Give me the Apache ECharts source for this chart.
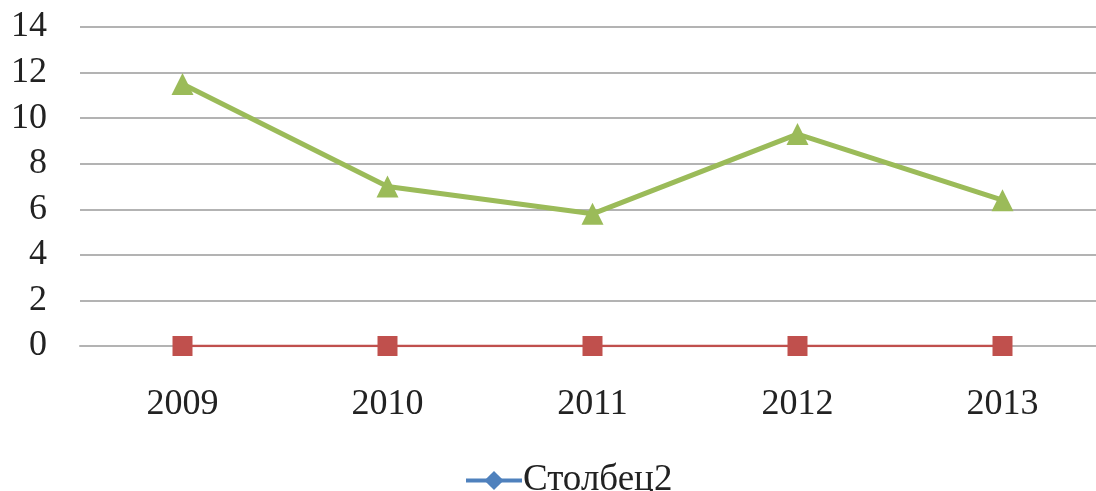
<!DOCTYPE html>
<html>
<head>
<meta charset="utf-8">
<script src="https://cdn.jsdelivr.net/npm/echarts@6/dist/echarts.min.js"></script>
<style>
  html, body { margin: 0; padding: 0; background: #fff; overflow: hidden; }
  #chart { width: 1106px; height: 491px; }
</style>
</head>
<body>
<div id="chart"></div>
<script>
// Years on the category axis
const years = ['2009', '2010', '2011', '2012', '2013'];
// Series values
const stolbets2 = [0, 0, 0, 0, 0];
const redSeries = [0, 0, 0, 0, 0];
const greenSeries = [11.5, 7.0, 5.8, 9.3, 6.4];
// Value axis range
const yMin = 0, yMax = 14, yStep = 2;

const serif = '"Liberation Serif", "DejaVu Serif", serif';
const gridColor = '#b3b3b3';

const chart = echarts.init(document.getElementById('chart'), null, { renderer: 'canvas' });
chart.setOption({
  backgroundColor: '#ffffff',
  animation: false,
  // plot area runs slightly past the right edge of the visible page
  grid: { left: 80, top: 27, right: 1, bottom: 145, containLabel: false },
  legend: {
    data: [{
      name: 'Столбец2',
      lineStyle: { width: 4, color: '#4f81bd' },
      itemStyle: { color: '#4f81bd' }
    }],
    left: 459,
    top: 457,
    itemWidth: 56,
    itemHeight: 24,
    itemGap: 4,
    textStyle: { fontFamily: serif, fontSize: 37, color: '#222', padding: [0, 0, 0, -4] }
  },
  xAxis: {
    type: 'category',
    data: years,
    boundaryGap: true,
    axisLine: { show: true, lineStyle: { color: gridColor, width: 2 } },
    axisTick: { show: false },
    axisLabel: { fontFamily: serif, fontSize: 36, color: '#222', margin: 41 }
  },
  yAxis: {
    type: 'value',
    min: yMin,
    max: yMax,
    interval: yStep,
    axisLine: { show: false },
    axisTick: { show: false },
    splitLine: { lineStyle: { color: gridColor, width: 2 } },
    axisLabel: { fontFamily: serif, fontSize: 36, color: '#222', margin: 33 }
  },
  series: [
    {
      name: 'Столбец2',
      type: 'line',
      data: stolbets2,
      symbol: 'diamond',
      symbolSize: 14,
      itemStyle: { color: '#4f81bd' },
      lineStyle: { color: '#4f81bd', width: 1.5 },
      z: 2
    },
    {
      name: 'Ряд2',
      type: 'line',
      data: redSeries,
      symbol: 'rect',
      symbolSize: 20,
      itemStyle: { color: '#c0504d' },
      lineStyle: { color: '#c0504d', width: 2.5 },
      z: 3
    },
    {
      name: 'Ряд3',
      type: 'line',
      data: greenSeries,
      symbol: 'triangle',
      symbolSize: 22,
      itemStyle: { color: '#9bbb59' },
      lineStyle: { color: '#9bbb59', width: 5 },
      z: 4
    }
  ]
});
</script>
</body>
</html>
